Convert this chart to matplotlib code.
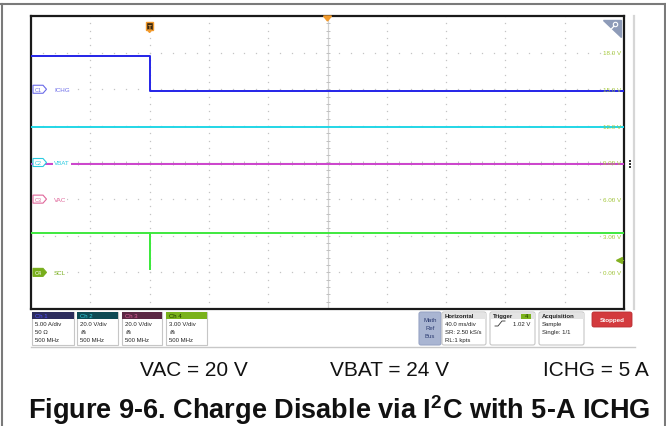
import matplotlib

matplotlib.use("Agg")
import matplotlib.pyplot as plt
import numpy as np
from matplotlib.patches import Polygon, Rectangle, FancyBboxPatch

# sweep: 40 ms/div, trigger 2 divisions in from the left edge
T_START, T_END, MS_PER_DIV = -80.0, 320.0, 40.0

# channel settings (volts or amps per division, ground position in divisions)
ch_names = ["ICHG", "VBAT", "VAC", "SCL"]
ch_scale = [5.0, 20.0, 20.0, 3.0]
ch_pos = [2.0, 0.0, -1.0, -3.0]

# captured waveforms (time in ms)
ichg_t = [-80, 0, 320]
ichg_a = [4.55, -0.25, -0.25]
vbat_t = [-80, 320]
vbat_v = [19.5, 19.5]
vac_t = [-80, 320]
vac_v = [19.2, 19.2]
scl_t = [-80, 0, 0.6, 320]
scl_v = [3.2, 0.3, 3.2, 3.2]

trig_level = 1.02
scale_labels = ["18.0 V", "15.0 V", "12.0 V", "9.00 V", "6.00 V", "3.00 V", "0.00 V"]
captions = ["VAC = 20 V", "VBAT = 24 V", "ICHG = 5 A"]

trace_colors = ["#2424e8", "#22d6e6", "#cc44cc", "#3ee83e"]
label_colors = ["#6a6ae8", "#2ccbe0", "#e0669a", "#78ae1c"]

W, H = 666, 427
GX0, GX1, GY0, GY1 = 31, 624, 17, 310
UI = "Liberation Sans"

plt.rcParams["mathtext.fontset"] = "custom"
plt.rcParams["mathtext.rm"] = "Liberation Sans:bold"
plt.rcParams["mathtext.it"] = "Liberation Sans:bold"
plt.rcParams["mathtext.bf"] = "Liberation Sans:bold"

fig = plt.figure(figsize=(W / 100, H / 100), dpi=100)

# graticule
ax = fig.add_axes([GX0 / W, 1 - GY1 / H, (GX1 - GX0) / W, (GY1 - GY0) / H])
ax.set_xlim(T_START, T_END)
ax.set_ylim(-4, 4)
ax.set_xticks([])
ax.set_yticks([])
for s in ax.spines.values():
    s.set_color("#1a1a1a")
    s.set_linewidth(1.6)

gx = np.arange(T_START + MS_PER_DIV, T_END, MS_PER_DIV)
fine_y = np.arange(-4, 4.01, 0.2)
fine_x = np.arange(T_START, T_END + 0.1, MS_PER_DIV / 5)
for x in gx:
    if x == 120:
        continue
    ax.plot(np.full_like(fine_y, x), fine_y, ls="none", marker="s", ms=0.9,
            color="#c4c4c4", mew=0)
for y in range(-3, 4):
    if y == 0:
        continue
    ax.plot(fine_x, np.full_like(fine_x, y), ls="none", marker="s", ms=0.9,
            color="#c4c4c4", mew=0)
ax.axvline(120, color="#d2d2d2", lw=0.9)
ax.axhline(0, color="#d2d2d2", lw=0.9)
ax.plot(np.full_like(fine_y, 120), fine_y, ls="none", marker="_", ms=3,
        color="#c0c0c0", mew=0.7)
ax.plot(fine_x, np.zeros_like(fine_x), ls="none", marker="|", ms=3,
        color="#c0c0c0", mew=0.7)


def to_div(v, ch):
    return np.asarray(v, dtype=float) / ch_scale[ch] + ch_pos[ch]


waves = [(ichg_t, ichg_a), (vbat_t, vbat_v), (vac_t, vac_v), (scl_t, scl_v)]
for ch in [3, 2, 1, 0]:
    t, v = waves[ch]
    ax.plot(t, to_div(v, ch), drawstyle="steps-post", color=trace_colors[ch],
            lw=1.4, zorder=5)

# overlay in pixel coordinates for the instrument furniture
ov = fig.add_axes([0, 0, 1, 1])
ov.set_xlim(0, W)
ov.set_ylim(H, 0)
ov.axis("off")


def div_py(d):
    return GY0 + (4 - d) * (GY1 - GY0) / 8


def time_px(t):
    return GX0 + (t - T_START) / (T_END - T_START) * (GX1 - GX0)


# outer frame and side bar
ov.plot([0, W], [5, 5], color="#7a7a7a", lw=1.5)
ov.plot([1.5, 1.5], [5, H], color="#7a7a7a", lw=1.5)
ov.plot([664.5, 664.5], [5, H], color="#7a7a7a", lw=1.5)
ov.plot([634, 634], [GY0, GY1], color="#d6d6d6", lw=1.6)
for dy in (-3, 0, 3):
    ov.plot(630, 165 + dy, marker="s", ms=1.6, color="#333333", mew=0)

# center and trigger markers
cx = time_px(120)
ov.add_patch(Polygon([[cx - 4, GY0], [cx + 4, GY0], [cx, GY0 + 5]],
                     closed=True, color="#f29a2c", zorder=6))
tx = time_px(0)
ov.add_patch(Rectangle((tx - 3.5, 23), 7, 8, facecolor="#3a2810",
                       edgecolor="#f29a2c", lw=1.0, zorder=6))
ov.add_patch(Polygon([[tx - 2, 31], [tx + 2, 31], [tx, 33.5]], closed=True,
                     color="#f29a2c", zorder=6))
ov.text(tx, 27.3, "T", ha="center", va="center", fontsize=4.5, color="#f5b050",
        family=UI, fontweight="bold", zorder=7)

# zoom corner
ov.add_patch(Polygon([[603, 21], [621, 21], [621, 38]], closed=True,
                     color="#8e9bb8", zorder=6))
ov.add_patch(plt.Circle((615.5, 25.5), 2.2, fill=False, ec="white", lw=0.8, zorder=7))
ov.plot([613.8, 611.5], [27.3, 29.8], color="white", lw=0.9, zorder=7)

# channel badges on the left edge
for ch in range(4):
    y = div_py(ch_pos[ch])
    pts = [[33, y - 4], [43, y - 4], [46.5, y], [43, y + 4], [33, y + 4]]
    filled = ch == 3
    ov.add_patch(Polygon(pts, closed=True,
                         facecolor=label_colors[ch] if filled else "white",
                         edgecolor=label_colors[ch], lw=0.8, zorder=6))
    ov.text(38.5, y + 0.3, f"C{ch + 1}", ha="center", va="center", fontsize=4,
            color="white" if filled else label_colors[ch], family=UI, zorder=7)
    ov.text(54, y + 0.3, ch_names[ch], ha="left", va="center", fontsize=4.5,
            color=label_colors[ch], family=UI, zorder=7,
            bbox=dict(facecolor="white", edgecolor="none", pad=0.6))

# vertical scale readout for Ch 4 and its trigger level
for i, lab in enumerate(scale_labels):
    ov.text(621, div_py(3 - i) + 0.3, lab, ha="right", va="center", fontsize=4.5,
            color="#a4c83a", family=UI, zorder=7)
ty = div_py(ch_pos[3] + trig_level / ch_scale[3])
ov.plot(619, ty, marker="<", ms=4.5, color="#82b020", zorder=7)
ov.plot([619, 623], [ty, ty], color="#82b020", lw=0.8, zorder=7)

# bottom status bar
ov.plot([GX0, 635], [347.5, 347.5], color="#c8c8c8", lw=1.0)
ch_boxes = [(32, 74), (77, 118), (122, 162), (166, 207)]
head_colors = ["#2c2c5c", "#0d4a54", "#5a2743", "#7ab21c"]
head_text = ["#5050ff", "#30d0e0", "#e0609a", "#1c3600"]
ch_lines = [["5.00 A/div", "50 Ω", "500 MHz"],
            ["20.0 V/div", "⋒", "500 MHz"],
            ["20.0 V/div", "⋒", "500 MHz"],
            ["3.00 V/div", "⋒", "500 MHz"]]
for ch, (x0, x1) in enumerate(ch_boxes):
    ov.add_patch(Rectangle((x0, 313), x1 - x0, 33, facecolor="white",
                           edgecolor="#c6c6c6", lw=0.8))
    ov.add_patch(Rectangle((x0, 313), x1 - x0, 7, facecolor=head_colors[ch],
                           edgecolor="none"))
    ov.text(x0 + 3, 316.8, f"Ch {ch + 1}", ha="left", va="center", fontsize=4.3,
            color=head_text[ch], family=UI)
    for j, line in enumerate(ch_lines[ch]):
        ov.text(x0 + 3, 325 + j * 8, line, ha="left", va="center", fontsize=4.3,
                color="#222222", family="DejaVu Sans" if line == "⋒" else UI)

ov.add_patch(FancyBboxPatch((419, 313), 22, 33, boxstyle="round,pad=0,rounding_size=2",
                            facecolor="#a9b5d2", edgecolor="#98a4c4", lw=0.8))
for j, word in enumerate(["Math", "Ref", "Bus"]):
    ov.text(430, 320.5 + j * 8, word, ha="center", va="center", fontsize=4.3,
            color="#2a3a70", family=UI)

info_boxes = [(442, 486, "Horizontal", ["40.0 ms/div", "SR: 2.50 kS/s", "RL:1 kpts"]),
              (490, 535, "Trigger", ["", "", ""]),
              (539, 584, "Acquisition", ["Sample", "Single: 1/1", ""])]
for x0, x1, head, lines in info_boxes:
    ov.add_patch(FancyBboxPatch((x0, 313), x1 - x0, 33,
                                boxstyle="round,pad=0,rounding_size=2",
                                facecolor="white", edgecolor="#c6c6c6", lw=0.8))
    ov.add_patch(Rectangle((x0 + 0.5, 313.5), x1 - x0 - 1, 6.5, facecolor="#e4e4e4",
                           edgecolor="none"))
    ov.text(x0 + 3, 316.8, head, ha="left", va="center", fontsize=4.3,
            color="#222222", family=UI, fontweight="bold")
    for j, line in enumerate(lines):
        ov.text(x0 + 3, 324.5 + j * 8, line, ha="left", va="center", fontsize=4.3,
                color="#222222", family=UI)

# trigger readout
ov.add_patch(Rectangle((521, 314.5), 10, 5, facecolor="#7ab21c", edgecolor="none"))
ov.text(526, 317, "4", ha="center", va="center", fontsize=4, color="#1c3600", family=UI)
ov.plot([495, 498, 502, 505], [327, 327, 322, 322], color="#333333", lw=0.6)
ov.text(530, 324.5, f"{trig_level:.2f} V", ha="right", va="center", fontsize=4.3,
        color="#222222", family=UI)

ov.add_patch(FancyBboxPatch((592, 313), 40, 15, boxstyle="round,pad=0,rounding_size=2",
                            facecolor="#d33a3e", edgecolor="#b82c30", lw=0.6))
ov.text(612, 320.8, "Stopped", ha="center", va="center", fontsize=4.5, color="white",
        family=UI, fontweight="bold")

# test conditions and figure caption
for x, cap in zip([194, 389, 596], captions):
    ov.text(x, 371, cap, ha="center", va="center", fontsize=15, color="#111111",
            family=UI)
ov.text(339, 410, r"Figure 9-6. Charge Disable via I$^{2}$C with 5-A ICHG",
        ha="center", va="center", fontsize=19.5, color="#111111", family=UI,
        fontweight="bold")

fig.savefig("out.png", dpi=100)
